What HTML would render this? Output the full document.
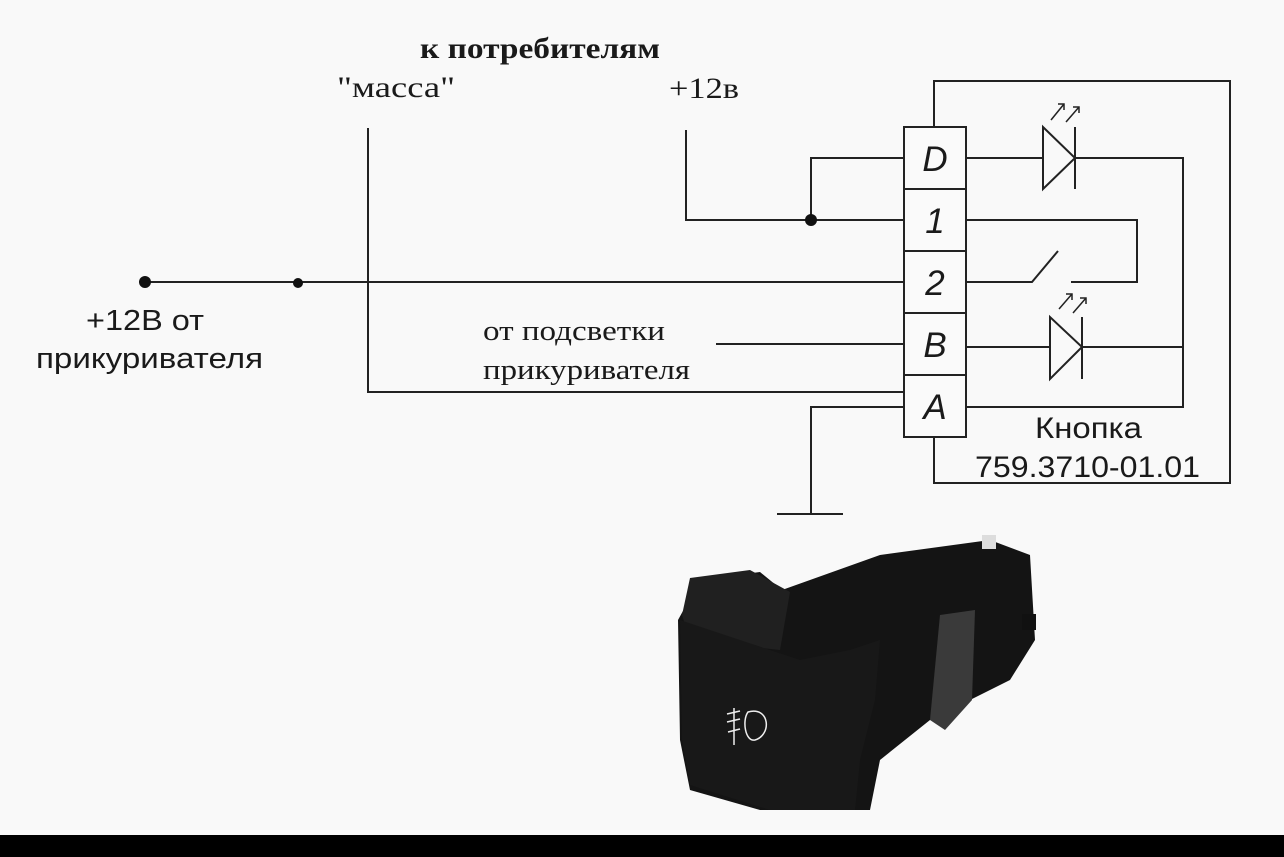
<!DOCTYPE html>
<html><head><meta charset="utf-8"><style>
html,body{margin:0;padding:0;background:#f9f9f9;}
svg{display:block;}
.s{font-family:"Liberation Serif","DejaVu Serif",serif;}
.a{font-family:"Liberation Sans","DejaVu Sans",sans-serif;}
</style></head><body>
<svg width="1284" height="857" viewBox="0 0 1284 857" xmlns="http://www.w3.org/2000/svg">
<rect width="1284" height="857" fill="#f9f9f9"/>
<g stroke="#222" stroke-width="2" fill="none">
<rect x="904" y="127" width="62" height="310" fill="#fafafa"/>
<line x1="904" y1="189" x2="966" y2="189"/>
<line x1="904" y1="251" x2="966" y2="251"/>
<line x1="904" y1="313" x2="966" y2="313"/>
<line x1="904" y1="375" x2="966" y2="375"/>
<polyline points="934,127 934,81 1230,81 1230,483 934,483 934,437"/>
<polyline points="904,158 811,158 811,220"/>
<line x1="966" y1="158" x2="1043" y2="158"/>
<polygon points="1043,127 1043,189 1075,158"/>
<line x1="1075" y1="127" x2="1075" y2="189"/>
<polyline points="1075,158 1183,158 1183,407 966,407"/>
<polyline points="686,130 686,220 904,220"/>
<polyline points="966,220 1137,220 1137,282 1071,282"/>
<line x1="145" y1="282" x2="904" y2="282"/>
<polyline points="966,282 1032,282 1058,251"/>
<line x1="716" y1="344" x2="904" y2="344"/>
<line x1="966" y1="347" x2="1050" y2="347"/>
<polygon points="1050,317 1050,379 1082,347"/>
<line x1="1082" y1="317" x2="1082" y2="379"/>
<line x1="1082" y1="347" x2="1183" y2="347"/>
<polyline points="368,128 368,392 904,392"/>
<polyline points="904,407 811,407 811,514"/>
<line x1="777" y1="514" x2="843" y2="514"/>
<g stroke-width="1.5">
<line x1="1051" y1="120" x2="1064" y2="104"/><polyline points="1058,104 1064,104 1064,110"/>
<line x1="1066" y1="122" x2="1079" y2="107"/><polyline points="1073,107 1079,107 1079,113"/>
<line x1="1059" y1="309" x2="1072" y2="294"/><polyline points="1066,294 1072,294 1072,300"/>
<line x1="1073" y1="313" x2="1086" y2="298"/><polyline points="1080,298 1086,298 1086,304"/>
</g>
</g>
<circle cx="811" cy="220" r="6" fill="#111"/>
<circle cx="145" cy="282" r="6" fill="#111"/>
<circle cx="298" cy="283" r="5" fill="#111"/>
<g fill="#1a1a1a">
<text class="a" x="935" y="171" font-size="35" font-style="italic" text-anchor="middle">D</text>
<text class="a" x="935" y="233" font-size="35" font-style="italic" text-anchor="middle">1</text>
<text class="a" x="935" y="295" font-size="35" font-style="italic" text-anchor="middle">2</text>
<text class="a" x="935" y="357" font-size="35" font-style="italic" text-anchor="middle">B</text>
<text class="a" x="935" y="419" font-size="35" font-style="italic" text-anchor="middle">A</text>
<text class="s" x="420" y="58" font-size="30" font-weight="bold" textLength="240" lengthAdjust="spacingAndGlyphs">к потребителям</text>
<text class="s" x="337" y="97" font-size="30" textLength="118" lengthAdjust="spacingAndGlyphs">"масса"</text>
<text class="s" x="669" y="98" font-size="30" textLength="70" lengthAdjust="spacingAndGlyphs">+12в</text>
<text class="a" x="86" y="330" font-size="29" textLength="118" lengthAdjust="spacingAndGlyphs">+12В от</text>
<text class="a" x="36" y="368" font-size="29" textLength="227" lengthAdjust="spacingAndGlyphs">прикуривателя</text>
<text class="s" x="483" y="340" font-size="28" textLength="182" lengthAdjust="spacingAndGlyphs">от подсветки</text>
<text class="s" x="483" y="379" font-size="28" textLength="207" lengthAdjust="spacingAndGlyphs">прикуривателя</text>
<text class="a" x="1035" y="438" font-size="30" textLength="107" lengthAdjust="spacingAndGlyphs">Кнопка</text>
<text class="a" x="975" y="477" font-size="30" textLength="225" lengthAdjust="spacingAndGlyphs">759.3710-01.01</text>
</g>
<g>
<polygon points="700,580 760,572 782,590 880,555 990,540 1030,555 1035,640 1010,680 930,720 880,760 870,810 760,810 690,790 680,740 678,620" fill="#141414"/>
<polygon points="682,615 690,578 750,570 790,592 780,650 690,640" fill="#202020"/>
<polygon points="680,620 800,660 850,650 880,640 875,700 860,760 855,810 770,810 690,785 682,740" fill="#181818"/>
<polygon points="940,615 975,610 972,700 945,730 930,720" fill="#3a3a3a"/>
<rect x="1022" y="614" width="14" height="16" fill="#111"/>
<rect x="982" y="535" width="14" height="14" fill="#ddd"/>
<g stroke="#eee" stroke-width="1.5" fill="none">
<path d="M748,712 C770,706 772,735 755,740 C745,742 742,720 748,712Z"/>
<line x1="727" y1="714" x2="740" y2="711"/>
<line x1="727" y1="722" x2="740" y2="719"/>
<line x1="728" y1="732" x2="740" y2="729"/>
<line x1="734" y1="708" x2="734" y2="745"/>
</g>
</g>
<rect x="0" y="835" width="1284" height="22" fill="#000"/>
</svg>
</body></html>
